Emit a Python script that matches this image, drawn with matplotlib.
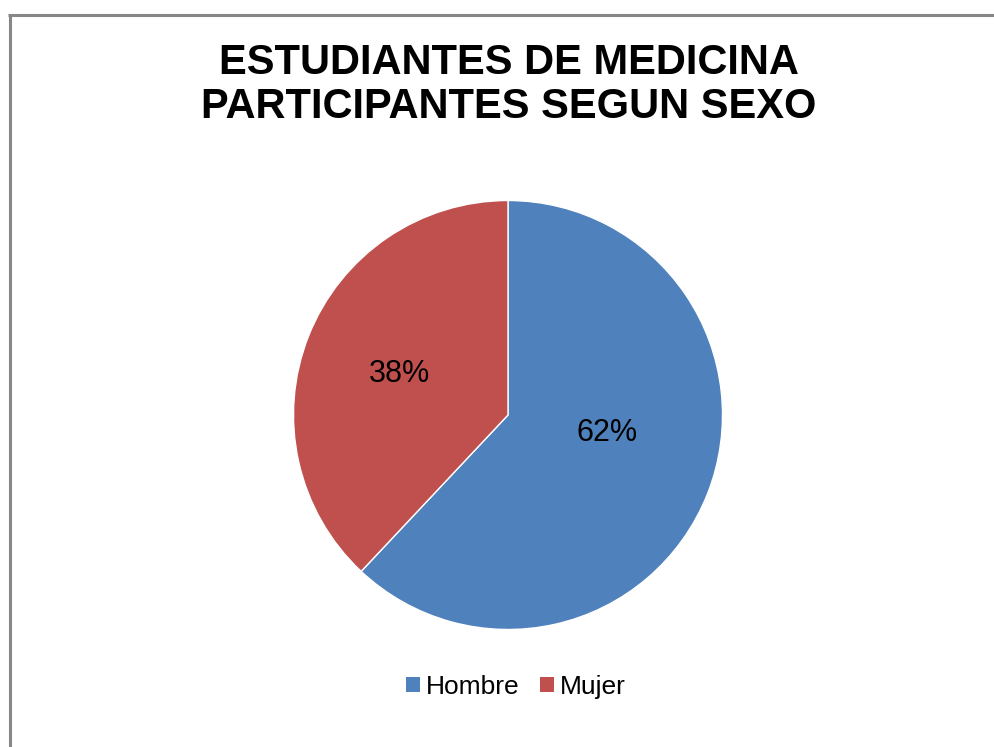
import matplotlib
matplotlib.use("Agg")
import matplotlib.pyplot as plt
from matplotlib.lines import Line2D
from matplotlib.patches import Patch

plt.rcParams['font.family'] = ['Liberation Sans', 'DejaVu Sans']

categories = ["Hombre", "Mujer"]
values = [62, 38]
colors = ["#4F81BD", "#C0504D"]
title = "ESTUDIANTES DE MEDICINA\nPARTICIPANTES SEGUN SEXO"

W, H = 995, 747
fig = plt.figure(figsize=(W / 100, H / 100), dpi=100)
fig.patch.set_facecolor("white")

# chart area border (gray frame cut at right/bottom)
fig.add_artist(Line2D([9.5 / W, 9.5 / W], [0, 1 - 14.5 / H], color="#878787", lw=2.2,
                      transform=fig.transFigure, solid_capstyle="butt"))
fig.add_artist(Line2D([8.4 / W, 1], [1 - 14.5 / H, 1 - 14.5 / H], color="#878787", lw=2.2,
                      transform=fig.transFigure, solid_capstyle="butt"))

# pie axes
cx, cy, r = 508, 415, 214.5
ax = fig.add_axes([(cx - r) / W, 1 - (cy + r) / H, 2 * r / W, 2 * r / H])
wedges, texts, autotexts = ax.pie(
    values, colors=colors, startangle=90, counterclock=False,
    autopct=lambda p: f"{p:.0f}%", pctdistance=0.5,
    wedgeprops=dict(edgecolor="white", linewidth=1.0),
    textprops=dict(fontsize=22, color="black"))
ax.set_xlim(-1, 1)
ax.set_ylim(-1, 1)
ax.set_aspect("equal")
ax.axis("off")
# label placement similar to Excel
autotexts[0].set_position(((607 - cx) / r, (cy - 433) / r))
autotexts[1].set_position(((399 - cx) / r, (cy - 374) / r))

fig.text(508.5 / W, 1 - 85 / H, title, ha="center", va="center",
         fontsize=30, fontweight="bold", linespacing=1.12)

handles = [Patch(facecolor=c, edgecolor="none") for c in colors]
fig.legend(handles, categories, loc="center", bbox_to_anchor=(516 / W, 1 - 687 / H),
           ncol=2, frameon=False, fontsize=19, handlelength=0.53, handleheight=0.5,
           handletextpad=0.23, columnspacing=0.76, borderaxespad=0)

fig.savefig("out.png", dpi=100)
